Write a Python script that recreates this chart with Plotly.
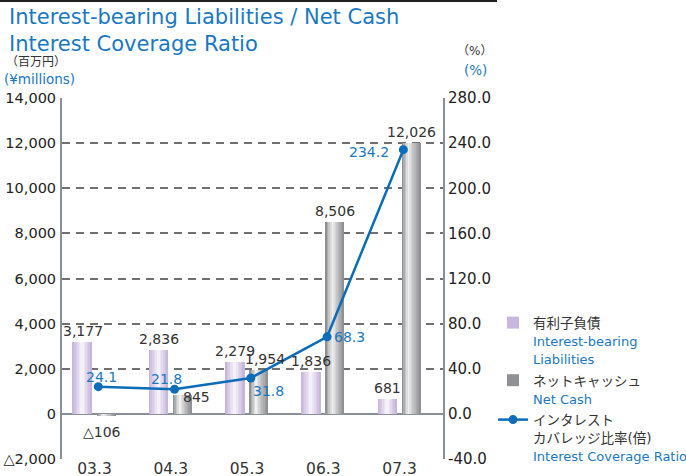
import plotly.graph_objects as go

categories = ["03.3", "04.3", "05.3", "06.3", "07.3"]
liabilities = [3177, 2836, 2279, 1836, 681]
net_cash = [-106, 845, 1954, 8506, 12026]
coverage = [24.1, 21.8, 31.8, 68.3, 234.2]

left_ticks = [-2000, 0, 2000, 4000, 6000, 8000, 10000, 12000, 14000]
left_tick_text = ["△2,000", "0", "2,000", "4,000", "6,000", "8,000", "10,000", "12,000", "14,000"]
right_ticks = [-40, 0, 40, 80, 120, 160, 200, 240, 280]
right_tick_text = ["-40.0", "0.0", "40.0", "80.0", "120.0", "160.0", "200.0", "240.0", "280.0"]

BLUE = "#1a78c2"
LINE_BLUE = "#0b6db8"
TXT = "#333333"
FONT = "DejaVu Sans, Noto Sans CJK JP"

W, H = 686, 476
ML, MR, MT, MB = 62, 243, 98, 17


def px(x):
    return (x - ML) / (W - ML - MR)


def py(y):
    return (H - MB - y) / (H - MT - MB)


def mix(c1, c2, t):
    a = [int(c1[i:i + 2], 16) for i in (1, 3, 5)]
    b = [int(c2[i:i + 2], 16) for i in (1, 3, 5)]
    return "#%02x%02x%02x" % tuple(round(a[i] + (b[i] - a[i]) * t) for i in range(3))


def sp(text, color=TXT, size=13.5):
    return "<span style='color:%s;font-size:%spx'>%s</span>" % (color, size, text)


fig = go.Figure()
xs = list(range(len(categories)))

N = 12
# Interest-bearing liabilities (lavender gradient)
lw, lo = 0.25, -0.282
for k in range(N):
    t = abs((k + 0.5) / N - 0.5) * 2
    col = mix("#fbf9fd", "#c4b2da", min(1, t ** 0.9))
    fig.add_trace(go.Bar(
        x=xs, y=liabilities, width=lw / N, offset=lo + k * lw / N,
        marker=dict(color=col, line=dict(width=0)),
        name=sp("有利子負債") + "<br>" + sp("Interest-bearing", BLUE, 13) + "<br>" + sp("Liabilities", BLUE, 13),
        showlegend=(k == 0), legendgroup="a", hoverinfo="skip"))

# Net cash (gray gradient)
nw, no = 0.245, 0.033
for k in range(N):
    p = (k + 0.5) / N
    if p < 0.38:
        col = mix("#7c7d81", "#f2f2f2", (p / 0.38) ** 0.8)
    else:
        col = mix("#f2f2f2", "#8a8b8f", ((p - 0.38) / 0.62) ** 0.9)
    fig.add_trace(go.Bar(
        x=xs, y=net_cash, width=nw / N, offset=no + k * nw / N,
        marker=dict(color=col, line=dict(width=0)),
        name=sp("ネットキャッシュ") + "<br>" + sp("Net Cash", BLUE, 13),
        showlegend=(k == 0), legendgroup="b", hoverinfo="skip"))

# Interest coverage ratio line
line_x = [i + 0.05 for i in xs]
fig.add_trace(go.Scatter(
    x=line_x, y=coverage, yaxis="y2", mode="lines+markers",
    line=dict(color=LINE_BLUE, width=2.5),
    marker=dict(color=LINE_BLUE, size=9),
    name=sp("インタレスト") + "<br>" + sp("カバレッジ比率(倍)") + "<br>" + sp("Interest Coverage Ratio", BLUE, 13),
    legendgroup="c"))

annotations = []


def fmt(v):
    s = "{:,}".format(abs(v))
    return ("△" + s) if v < 0 else s


# Bar value labels
for i, v in enumerate(liabilities):
    annotations.append(dict(x=i + lo + lw / 2, y=v, text=fmt(v), showarrow=False,
                            yanchor="bottom", yshift=1, font=dict(size=14, color=TXT, family=FONT)))
nc_style = [("below", -4, -6), ("right", 14, -2), ("above", 6, 1), ("above", 0, 1), ("above", 0, 1)]
for i, v in enumerate(net_cash):
    pos, dx, dy = nc_style[i]
    a = dict(x=i + no + nw / 2, y=v, text=fmt(v), showarrow=False, xshift=dx, yshift=dy,
             font=dict(size=14, color=TXT, family=FONT))
    if pos == "below":
        a.update(yanchor="top")
    elif pos == "right":
        a.update(yanchor="middle")
    else:
        a.update(yanchor="bottom")
    annotations.append(a)

# Line value labels
cov_style = [("center", 3, 10), ("center", -8, 10), ("center", 18, -13), ("left", 5, 0), ("right", -12, -2)]
for i, v in enumerate(coverage):
    xa, dx, dy = cov_style[i]
    annotations.append(dict(x=line_x[i], y=v, yref="y2", text="%.1f" % v, showarrow=False,
                            xanchor=xa, yanchor="middle", xshift=dx, yshift=dy,
                            font=dict(size=14, color=BLUE, family=FONT)))

# Titles and units
annotations += [
    dict(x=px(7), y=py(17), xref="paper", yref="paper", text="Interest-bearing Liabilities / Net Cash",
         showarrow=False, xanchor="left", yanchor="middle", font=dict(size=21, color=BLUE, family=FONT)),
    dict(x=px(7), y=py(44), xref="paper", yref="paper", text="Interest Coverage Ratio",
         showarrow=False, xanchor="left", yanchor="middle", font=dict(size=21, color=BLUE, family=FONT)),
    dict(x=px(4), y=py(62), xref="paper", yref="paper", text="（百万円）",
         showarrow=False, xanchor="left", yanchor="middle", font=dict(size=12, color=TXT, family=FONT)),
    dict(x=px(2), y=py(79), xref="paper", yref="paper", text="(¥millions)",
         showarrow=False, xanchor="left", yanchor="middle", font=dict(size=13.5, color=BLUE, family=FONT)),
    dict(x=px(474), y=py(51), xref="paper", yref="paper", text="（%）",
         showarrow=False, xanchor="center", yanchor="middle", font=dict(size=12, color=TXT, family=FONT)),
    dict(x=px(475), y=py(70), xref="paper", yref="paper", text="(%)",
         showarrow=False, xanchor="center", yanchor="middle", font=dict(size=13.5, color=BLUE, family=FONT)),
]

AX = "#8a9099"
fig.update_layout(
    width=W, height=H,
    margin=dict(l=ML, r=MR, t=MT, b=MB, autoexpand=False),
    paper_bgcolor="white", plot_bgcolor="white",
    barmode="overlay", bargap=0,
    font=dict(family=FONT, color=TXT),
    xaxis=dict(range=[-0.426, 4.57], tickvals=xs, ticktext=categories, showgrid=False,
               zeroline=False, showline=False, ticks="", tickfont=dict(size=15.5, color=TXT),
               ticklabelstandoff=-2, fixedrange=True),
    yaxis=dict(range=[-2000, 14000], tickvals=left_ticks, ticktext=left_tick_text,
               showgrid=True, gridcolor="#707070", gridwidth=1.5, griddash="8px,6px",
               zeroline=True, zerolinecolor=AX, zerolinewidth=2,
               showline=True, linecolor=AX, linewidth=2, ticks="",
               ticklabelstandoff=1, tickfont=dict(size=14.5, color="#222222")),
    yaxis2=dict(range=[-40, 280], tickvals=right_ticks, ticktext=right_tick_text,
                overlaying="y", side="right", showgrid=False, zeroline=False,
                showline=True, linecolor=AX, linewidth=2, ticks="",
                tickfont=dict(size=15, color="#222222")),
    legend=dict(x=px(493), y=py(307), xanchor="left", yanchor="top",
                font=dict(size=14.0, color=TXT, family=FONT), valign="top",
                bgcolor="rgba(0,0,0,0)", itemwidth=30, tracegroupgap=0),
    annotations=annotations,
    shapes=[dict(type="line", xref="paper", yref="paper", x0=px(0), x1=px(497), y0=py(1), y1=py(1),
                 line=dict(color="#222222", width=2))],
)

fig.write_html("out.html", config={"displayModeBar": False},
               post_script="document.body.style.margin='0';")
